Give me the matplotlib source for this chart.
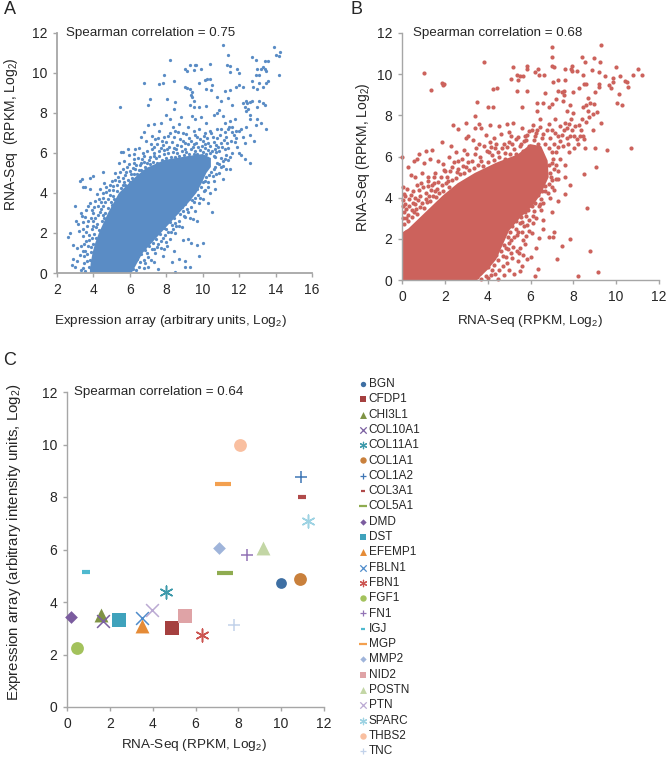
import numpy as np
import matplotlib
matplotlib.use("Agg")
import matplotlib.pyplot as plt

plt.rcParams["font.family"] = ["Liberation Sans", "DejaVu Sans"]
plt.rcParams["mathtext.default"] = "regular"

W, H = 670, 769
AXIS_GRAY = "#A6A6A6"
TEXT = "#262626"
BLUE = "#5A8CC5"
RED = "#CC625C"

# panel A: the saturated core is an outline, the loose points are read one by one
a_core = [(3.8, 0), (3.85, 0.5), (3.95, 1.0), (4.1, 1.5), (4.3, 2.0), (4.55, 2.5), (4.8, 3.0), (5.1, 3.5),
          (5.4, 4.0), (5.85, 4.4), (6.3, 4.8), (6.9, 5.25), (7.9, 5.65), (9.2, 5.85), (10.0, 5.95), (10.45, 5.75),
          (10.45, 5.3), (10.2, 5.0), (9.95, 4.5), (9.65, 4.0), (9.2, 3.5), (8.7, 3.0), (8.2, 2.5),
          (7.7, 2.0), (7.2, 1.5), (6.7, 1.0), (6.4, 0.5), (6.1, 0)]
a_points = [
    (11.1, 11.4), (13.9, 11.3), (14.25, 11.05), (14.0, 10.9), (14.2, 10.85), (11.4, 10.9), (12.7, 10.8), (12.9, 10.65),
    (13.4, 10.6), (13.6, 10.6), (8.2, 10.65), (9.3, 10.4), (9.55, 10.4), (9.65, 10.4), (10.4, 10.45), (11.35, 10.4),
    (11.5, 10.35), (9.0, 10.2), (9.15, 10.1), (9.5, 10.15), (9.9, 10.2), (11.5, 10.05), (11.9, 10.2), (12.0, 10.0),
    (13.2, 10.2), (13.0, 10.2), (13.3, 10.3), (13.4, 10.2), (13.5, 10.1), (14.2, 9.9), (12.9, 9.9), (13.1, 9.9),
    (7.85, 9.9), (7.8, 9.5), (7.6, 9.45), (8.4, 9.6), (6.75, 9.5), (9.8, 9.5), (10.1, 9.65), (10.25, 9.7), (10.4, 9.7),
    (10.5, 9.4), (10.45, 9.15), (10.2, 9.2), (9.0, 9.3), (9.15, 9.25), (9.3, 9.2), (9.4, 9.05), (9.35, 8.9), (9.4, 8.8),
    (9.5, 8.6), (11.2, 9.1), (11.5, 9.15), (11.8, 9.3), (12.0, 9.4), (12.2, 9.3), (12.7, 9.6), (12.75, 9.3), (13.0, 9.2),
    (13.1, 9.5), (13.3, 9.3), (13.5, 9.5), (13.6, 9.6), (7.1, 8.7), (7.0, 8.4), (5.45, 8.3), (8.05, 8.7), (8.5, 8.55),
    (8.45, 8.2), (9.3, 8.4), (9.5, 8.3), (9.8, 8.3), (10.2, 8.35), (10.8, 8.8), (11.0, 8.6), (11.4, 8.75), (11.6, 8.4),
    (12.2, 8.5), (12.35, 8.6), (12.45, 8.5), (12.6, 8.55), (12.7, 8.6), (12.3, 8.3), (12.4, 8.1), (12.5, 8.2),
    (12.6, 7.9), (13.1, 8.6), (13.3, 8.5), (13.4, 8.4), (13.0, 8.3), (12.6, 7.7), (13.0, 7.7), (13.2, 7.5), (13.5, 7.2),
    (2.6, 1.8), (2.7, 2.0), (3.0, 3.35), (3.25, 4.6), (3.35, 4.7), (3.4, 4.3), (3.55, 4.3), (3.8, 4.2), (3.8, 4.75),
    (4.0, 4.85), (4.5, 5.05), (3.3, 3.0), (3.35, 2.85), (3.05, 2.6), (3.15, 2.45), (3.2, 2.1), (3.45, 2.2), (2.9, 1.4),
    (3.1, 1.25), (3.3, 1.35), (2.9, 0.7), (2.8, 0.4), (3.0, 0.3), (3.1, 0.6), (3.25, 0.9), (3.5, 0.85), (3.6, 1.6),
    (3.7, 2.6), (3.75, 1.9), (3.8, 3.5), (3.7, 3.35), (4.0, 3.0), (4.0, 2.6), (4.1, 3.6), (4.3, 3.7), (4.4, 3.2),
    (4.5, 4.0), (4.6, 4.5), (4.7, 4.3), (4.8, 3.7), (4.9, 4.4), (5.0, 4.6), (5.1, 4.15), (5.2, 5.0), (5.4, 5.5),
    (5.5, 6.05), (5.6, 6.05), (5.7, 5.6), (5.85, 5.3), (5.95, 5.9), (6.0, 5.1), (6.2, 5.5), (6.3, 6.2), (6.5, 6.25),
    (6.7, 6.0), (6.9, 6.6), (7.0, 7.4), (7.3, 7.45), (7.4, 6.7), (7.7, 7.5), (7.9, 6.8), (8.0, 7.9), (8.2, 7.7),
    (8.5, 7.1), (3.55, 1.1), (3.65, 0.6), (3.4, 0.25), (3.75, 0.3), (3.45, 1.85), (3.85, 1.3), (3.9, 2.2), (4.15, 2.3),
    (4.25, 2.9), (4.45, 2.6), (4.55, 3.35), (4.65, 3.0), (4.95, 3.55), (5.05, 3.85), (5.3, 4.4), (5.35, 4.8), (5.6, 4.4),
    (5.75, 4.9), (6.1, 4.75), (6.3, 5.2), (6.55, 5.4), (6.65, 5.7), (6.85, 5.3), (7.1, 5.8), (7.2, 6.2), (7.45, 5.75),
    (7.6, 6.1), (7.8, 6.4), (8.05, 6.2), (8.3, 6.55), (8.6, 6.4), (8.75, 6.7), (9.0, 6.5), (9.25, 6.75), (9.5, 6.45),
    (9.7, 6.8), (10.0, 6.6), (10.3, 6.5), (10.55, 6.8), (10.75, 6.4), (10.9, 6.1), (10.7, 5.8), (11.2, 6.2), (11.3, 5.9),
    (6.5, 0.3), (7.0, 0.3), (7.55, 0.2), (8.5, 0.05), (9.0, 0.3), (9.3, 0.3), (9.05, 0.6), (8.7, 0.7), (9.8, 0.85),
    (9.35, 1.5), (9.7, 1.4), (10.0, 1.5), (9.2, 1.7), (8.9, 1.65), (9.45, 2.7), (9.7, 2.6), (9.3, 2.75), (8.5, 2.0),
    (8.2, 1.7), (7.9, 1.2), (7.4, 1.0), (7.0, 0.8), (7.2, 1.2), (7.7, 1.6), (8.0, 2.2), (8.3, 2.4), (8.7, 2.6), (9.0, 2.8),
    (9.35, 3.3), (9.6, 3.1), (9.8, 3.5), (10.0, 3.7), (10.5, 3.05), (10.3, 3.5), (10.4, 4.0), (10.3, 4.3), (10.6, 4.6),
    (10.7, 4.2), (11.3, 5.2), (11.5, 5.2), (11.1, 4.7), (11.0, 5.3), (10.9, 5.0), (11.6, 6.0), (12.0, 6.0), (12.1, 5.9),
    (12.3, 5.7), (12.6, 5.5), (12.8, 6.6), (11.9, 6.3), (11.8, 7.1), (12.0, 7.1), (12.4, 7.3), (12.9, 7.4), (12.6, 6.9),
    (11.5, 7.6), (11.2, 7.5), (11.0, 7.2), (11.3, 6.8), (11.0, 6.5), (10.8, 7.2), (10.4, 7.1), (10.2, 7.5), (9.9, 7.8),
    (9.6, 7.7), (9.2, 7.3), (8.8, 7.8), (8.9, 7.0), (9.4, 7.85), (10.8, 8.0), (10.6, 7.9), (6.4, 0.7), (6.75, 0.65),
    (6.85, 1.15), (7.3, 0.55), (7.5, 1.3), (7.8, 0.85), (8.05, 1.35), (8.3, 0.55), (8.4, 1.1), (7.95, 1.9), (8.25, 2.05),
    (8.55, 2.35), (8.85, 2.3), (8.9, 3.1), (9.2, 3.05), (9.5, 3.55), (9.75, 3.9), (10.05, 4.1), (10.1, 4.6), (10.35, 4.9),
    (10.6, 5.2), (10.8, 5.5), (11.1, 5.6), (11.35, 6.5), (11.55, 6.6), (11.7, 6.9), (11.6, 7.3), (11.4, 7.2), (12.2, 6.8),
    (12.1, 7.2), (12.3, 6.5), (10.1, 7.0), (9.8, 7.2), (9.5, 7.1), (8.7, 7.45), (8.35, 7.3), (7.6, 7.1), (7.2, 6.85),
    (6.6, 6.8), (6.8, 7.05), (6.2, 5.95), (5.9, 6.2), (7.5, 6.45), (8.1, 6.85), (11.1, 7.85), (11.75, 7.7), (10.9, 8.15),
    (3.3, 0.15), (3.5, 0.5), (3.55, 0.1), (3.65, 0.95), (3.7, 1.35), (3.8, 0.65), (3.85, 0.2), (3.4, 1.1), (3.5, 1.45),
    (3.6, 2.05), (3.65, 2.35), (3.75, 1.65), (3.85, 1.05), (3.9, 1.75), (3.95, 1.45), (3.45, 2.55), (3.55, 2.8), (3.6, 3.15),
    (3.85, 2.75), (3.95, 2.35), (4.05, 1.95), (4.1, 2.75), (4.15, 1.75), (4.2, 2.45), (4.3, 2.15), (4.35, 3.05), (4.25, 3.35),
    (4.05, 3.3), (3.9, 3.15), (4.2, 3.95), (4.35, 4.2), (4.4, 3.55), (4.5, 2.9), (4.6, 2.75), (4.55, 3.75), (4.65, 3.55),
    (4.7, 4.05), (4.8, 3.25), (4.85, 4.15), (4.9, 3.9), (5.0, 3.4), (5.05, 4.35), (5.15, 3.7), (5.2, 4.65), (5.3, 4.1),
    (5.4, 4.6), (5.45, 5.05), (5.5, 4.25), (5.6, 4.75), (5.65, 5.2), (5.7, 4.55), (5.8, 5.05), (5.9, 4.65), (5.95, 5.45),
    (6.05, 4.95), (6.15, 5.25), (6.25, 5.7), (6.35, 5.4), (6.45, 5.75), (6.5, 5.15), (6.6, 5.5), (6.75, 5.85), (6.8, 5.55),
    (6.95, 6.1), (7.05, 5.65), (7.15, 6.45), (7.3, 6.0), (7.35, 6.3), (7.55, 6.75), (7.7, 6.25), (7.75, 6.6), (7.9, 6.15),
    (8.0, 6.55), (8.15, 6.3), (8.2, 7.0), (8.4, 6.25), (8.45, 6.8), (8.55, 6.2), (8.65, 7.05), (8.8, 6.35), (8.9, 6.6),
    (9.05, 6.2), (9.1, 6.95), (9.2, 6.45), (9.35, 6.6), (9.45, 6.3), (9.55, 6.9), (9.65, 6.5), (9.75, 6.3), (9.85, 6.7),
    (9.95, 6.35), (10.05, 6.85), (10.15, 6.45), (10.25, 6.75), (10.4, 6.35), (10.45, 7.0), (10.6, 6.55), (10.65, 6.2),
    (10.8, 6.75), (10.85, 6.3), (10.95, 6.9), (11.05, 6.3), (11.15, 6.65), (11.25, 7.05), (11.4, 6.25), (11.45, 7.3),
    (11.6, 7.05), (11.75, 6.55), (11.85, 6.75), (6.15, 0.2), (6.35, 0.15), (6.55, 0.55), (6.6, 0.95), (6.75, 0.25),
    (6.85, 0.5), (6.95, 1.0), (7.05, 1.35), (7.15, 0.65), (7.25, 1.5), (7.35, 1.2), (7.45, 1.7), (7.55, 1.45), (7.65, 1.95),
    (7.7, 1.25), (7.8, 1.75), (7.9, 2.25), (8.0, 1.55), (8.1, 2.05), (8.2, 2.55), (8.35, 2.2), (8.4, 2.75), (8.5, 2.5),
    (8.6, 3.05), (8.7, 2.35), (8.75, 2.95), (8.85, 3.3), (8.95, 2.85), (9.05, 3.45), (9.15, 3.2), (9.25, 3.7), (9.4, 3.65),
    (9.45, 4.05), (9.6, 3.75), (9.7, 4.2), (9.85, 3.75), (9.9, 4.3), (10.0, 4.55), (10.1, 4.15), (10.2, 4.8), (10.3, 4.55),
    (10.45, 5.05), (10.55, 4.85), (10.7, 5.3), (10.75, 4.95), (10.9, 5.45), (11.0, 5.75), (11.1, 5.35), (11.2, 5.7),
    (11.4, 5.65), (11.5, 5.8), (6.95, 5.5), (7.1, 5.45), (7.25, 5.55), (7.35, 5.85), (7.5, 5.5), (7.6, 5.85), (7.75, 5.65),
    (7.85, 5.95), (8.0, 5.75), (8.1, 6.0), (8.25, 5.8), (8.35, 6.05), (8.5, 5.8), (8.6, 6.0), (8.7, 5.85), (8.85, 6.1),
    (8.95, 5.9), (9.1, 6.05), (9.25, 5.95), (9.35, 6.2), (9.5, 5.95), (9.6, 6.1), (9.7, 5.95), (9.85, 6.15), (10.0, 6.05),
    (10.1, 6.25), (10.2, 5.95), (10.3, 6.15), (10.4, 6.0), (10.5, 6.1), (10.6, 5.85), (10.75, 6.05), (6.4, 4.95), (6.6, 5.15),
    (6.75, 5.1), (6.25, 4.95), (6.0, 4.55), (5.75, 4.4),
]

# panel B
b_core = [(0, 0), (3.5, 0), (4.0, 0.5), (4.4, 1.0), (4.7, 1.7), (5.0, 2.4), (5.5, 3.0), (6.1, 3.6), (6.5, 4.2),
          (6.85, 5.0), (6.8, 5.8), (6.5, 6.5), (6.0, 6.6), (5.4, 6.1), (4.4, 5.7), (3.4, 5.2), (2.6, 4.7),
          (1.9, 4.1), (1.3, 3.5), (0.7, 2.9), (0.3, 2.5), (0, 2.3)]
b_points = [
    (7.0, 11.3), (9.3, 11.4), (7.0, 10.85), (8.4, 10.85), (8.95, 10.8), (8.55, 10.6), (9.25, 10.6), (3.85, 10.6),
    (7.0, 10.4), (7.1, 10.35), (5.2, 10.35), (5.85, 10.4), (5.85, 10.25), (6.35, 10.25), (6.2, 10.1), (6.4, 9.95),
    (6.65, 9.95), (7.6, 10.25), (7.9, 10.25), (7.95, 10.4), (7.95, 10.15), (8.15, 10.15), (8.45, 9.95), (8.85, 10.2),
    (9.2, 10.1), (9.5, 9.9), (10.0, 10.35), (10.2, 9.9), (11.0, 10.25), (10.8, 9.95), (11.2, 9.95), (1.05, 10.05),
    (5.35, 9.95), (5.5, 9.9), (5.65, 9.9), (5.1, 9.75), (5.4, 9.7), (7.05, 9.6), (7.3, 9.7), (7.6, 9.7), (7.3, 9.2),
    (7.45, 9.15), (7.55, 9.2), (8.0, 9.15), (8.25, 9.35), (8.5, 9.5), (8.6, 9.5), (9.2, 9.5), (9.2, 9.4), (9.0, 9.15),
    (9.65, 9.45), (9.75, 9.35), (9.85, 9.8), (9.85, 9.6), (10.4, 9.65), (10.5, 9.6), (10.55, 9.4), (1.85, 9.55),
    (1.95, 9.5), (1.9, 9.45), (1.35, 9.25), (4.25, 9.3), (4.45, 9.35), (5.35, 9.2), (5.85, 9.2), (6.7, 9.1), (7.55, 9.0),
    (10.15, 9.05), (7.2, 8.8), (7.5, 8.7), (3.5, 8.65), (6.3, 8.6), (6.6, 8.6), (7.0, 8.55), (6.85, 8.4), (6.3, 8.2),
    (5.6, 8.4), (4.0, 8.4), (4.25, 8.4), (10.05, 8.6), (10.25, 8.5), (8.7, 8.85), (8.45, 8.4), (8.6, 8.5), (8.8, 8.6),
    (8.95, 8.55), (8.7, 8.2), (8.9, 8.05), (9.1, 8.15), (8.75, 7.9), (7.85, 8.5), (7.7, 8.2), (8.0, 8.1), (3.4, 7.95),
    (3.4, 7.4), (2.4, 7.55), (2.6, 7.35), (3.0, 7.65), (3.6, 7.6), (3.7, 7.4), (4.1, 7.55), (9.3, 7.65), (4.55, 7.5),
    (4.9, 7.6), (5.2, 7.65), (5.0, 7.2), (9.15, 0.4), (8.2, 0.2), (7.25, 1.0), (8.8, 1.4), (7.85, 2.0), (7.1, 2.35),
    (6.85, 2.1), (7.05, 2.1), (7.45, 1.65), (8.65, 3.5), (10.7, 6.4), (9.55, 6.3), (9.05, 5.5), (8.5, 5.15), (7.85, 4.6),
    (7.6, 5.0), (6.35, 0.55), (6.2, 0.2), (6.0, 1.1), (5.95, 2.4), (6.05, 2.3), (6.4, 2.05), (5.65, 1.95), (7.0, 3.3),
    (7.3, 3.85), (7.6, 4.2), (6.9, 4.0), (0.0, 6.0), (0.3, 5.5), (0.55, 5.8), (0.7, 5.9), (0.4, 5.1), (0.6, 5.0),
    (0.8, 6.1), (1.05, 5.7), (1.1, 6.25), (1.4, 6.3), (1.3, 5.9), (1.7, 5.8), (1.9, 5.65), (0.95, 5.2), (1.2, 5.0),
    (1.55, 5.2), (1.85, 6.7), (2.2, 6.0), (2.3, 6.5), (2.5, 6.2), (2.6, 5.8), (2.9, 6.3), (3.0, 6.9), (3.3, 6.8),
    (3.1, 7.0), (3.6, 6.6), (3.9, 7.05), (4.1, 6.7), (4.3, 6.9), (4.35, 6.4), (4.6, 7.1), (4.75, 6.6), (5.0, 6.7),
    (5.1, 7.0), (5.3, 6.85), (5.6, 7.4), (5.75, 7.0), (5.95, 7.25), (6.1, 7.55), (6.3, 7.3), (6.45, 7.8), (6.6, 7.1),
    (6.85, 7.6), (7.0, 7.3), (7.15, 7.8), (7.3, 7.0), (7.4, 7.5), (7.55, 7.3), (7.7, 6.9), (7.8, 7.6), (7.95, 7.3),
    (8.1, 7.5), (8.3, 7.0), (8.5, 6.85), (8.2, 6.6), (8.05, 6.4), (7.8, 6.2), (8.55, 6.4), (9.0, 6.4), (8.9, 7.3),
    (8.6, 7.7), (8.4, 7.8), (7.5, 6.5), (7.2, 6.2), (7.05, 5.9), (7.4, 5.9), (7.6, 5.6), (7.1, 5.4), (6.95, 5.0),
    (7.3, 4.9), (7.0, 4.5), (6.7, 4.3), (6.5, 3.95), (6.4, 3.6), (6.15, 3.35), (6.5, 3.4), (5.8, 3.1), (5.6, 2.8),
    (5.3, 2.5), (5.35, 2.2), (5.1, 1.95), (5.2, 1.6), (4.95, 1.5), (4.85, 1.1), (5.15, 1.05), (4.7, 0.7), (5.0, 0.5),
    (5.4, 0.9), (5.5, 0.45), (5.65, 1.2), (5.85, 1.0), (5.5, 1.55), (5.75, 1.75), (4.35, 0.3), (4.5, 0.05), (4.0, 0.1),
    (4.15, 0.25), (4.75, 0.25), (3.7, 0.05), (3.25, 0.1), (5.6, 2.35), (5.85, 2.65), (6.1, 2.75), (6.6, 2.9), (0.05, 4.5),
    (0.1, 4.2), (0.15, 3.7), (0.05, 3.6), (0.25, 4.4), (0.35, 3.95), (0.5, 4.3), (0.6, 3.7), (0.45, 3.4), (0.2, 3.0),
    (0.1, 2.7), (0.7, 4.6), (0.85, 4.1), (1.0, 4.5), (1.1, 3.95), (1.2, 4.8), (1.35, 4.35), (1.5, 4.7), (1.65, 4.4),
    (1.8, 5.0), (2.0, 5.3), (2.15, 4.8), (2.35, 5.5), (2.55, 5.25), (2.85, 5.55), (3.1, 5.75), (3.4, 6.1), (3.7, 5.8),
    (3.95, 6.25), (4.2, 6.05), (4.5, 6.2), (4.8, 6.15), (5.25, 6.35), (5.55, 6.6), (5.8, 6.8), (6.2, 7.0), (0.2, 2.35),
    (0.05, 3.0), (0.1, 3.3), (0.05, 3.9), (0.15, 4.1), (0.2, 3.45), (0.3, 3.15), (0.3, 2.85), (0.35, 3.6), (0.4, 4.15),
    (0.45, 3.05), (0.5, 3.75), (0.55, 3.3), (0.6, 4.0), (0.65, 3.45), (0.7, 3.2), (0.75, 3.9), (0.8, 4.35), (0.85, 3.55),
    (0.9, 4.7), (0.95, 3.75), (1.05, 3.5), (1.1, 4.25), (1.15, 3.8), (1.2, 4.55), (1.25, 4.1), (1.3, 3.85), (1.4, 4.6),
    (1.45, 4.1), (1.5, 5.0), (1.55, 4.3), (1.6, 4.05), (1.7, 4.75), (1.75, 4.25), (1.85, 4.6), (1.9, 4.3), (1.95, 5.35),
    (2.05, 4.7), (2.1, 5.0), (2.2, 4.5), (2.25, 5.3), (2.35, 4.85), (2.45, 5.75), (2.5, 4.95), (2.6, 5.4), (2.7, 5.15),
    (2.8, 5.9), (2.9, 5.2), (3.0, 5.5), (3.05, 6.1), (3.15, 5.35), (3.25, 5.8), (3.35, 5.45), (3.45, 6.4), (3.55, 5.6),
    (3.65, 6.0), (3.8, 5.55), (3.85, 6.5), (4.0, 5.75), (4.05, 6.2), (4.15, 6.45), (4.3, 5.85), (4.4, 6.6), (4.55, 6.0),
    (4.65, 6.4), (4.8, 5.9), (4.9, 6.45), (5.05, 6.1), (5.15, 6.6), (5.3, 6.1), (5.4, 6.95), (5.5, 6.5), (5.65, 6.25),
    (5.7, 6.75), (5.85, 7.05), (5.95, 6.5), (6.05, 7.3), (6.15, 6.8), (6.25, 7.15), (6.35, 6.6), (6.45, 7.45), (6.55, 6.9),
    (6.7, 6.6), (6.75, 7.3), (6.85, 6.4), (6.9, 6.9), (7.0, 6.2), (7.1, 6.6), (7.15, 7.15), (7.3, 6.45), (7.4, 6.75),
    (7.45, 7.05), (7.6, 7.65), (7.7, 7.4), (7.75, 6.6), (7.85, 7.0), (7.9, 7.8), (8.05, 7.0), (8.15, 6.85), (8.25, 7.55),
    (8.35, 7.3), (8.45, 7.0), (6.85, 5.6), (6.9, 5.2), (7.0, 5.7), (7.2, 5.6), (7.3, 5.3), (3.5, 0.15), (3.65, 0.35),
    (3.75, 0.5), (3.9, 0.2), (4.0, 0.65), (4.1, 0.9), (4.2, 0.5), (4.3, 0.75), (4.4, 1.2), (4.5, 0.95), (4.55, 0.5),
    (4.6, 1.4), (4.7, 1.15), (4.75, 1.7), (4.85, 1.55), (4.9, 0.85), (4.95, 2.1), (5.0, 1.8), (5.05, 2.35), (5.1, 1.3),
    (5.15, 2.6), (5.25, 2.1), (5.3, 2.85), (5.4, 2.35), (5.45, 1.3), (5.5, 2.75), (5.55, 3.05), (5.6, 0.7), (5.7, 2.6),
    (5.75, 3.3), (5.8, 2.15), (5.9, 3.4), (5.95, 2.9), (6.05, 3.6), (6.1, 3.1), (6.2, 3.75), (6.25, 3.0), (6.35, 4.15),
    (6.45, 3.7), (6.55, 4.3), (6.6, 3.75), (6.7, 4.55), (6.8, 4.25), (6.85, 4.65), (7.0, 4.85), (7.1, 4.35), (7.2, 4.9),
    (6.6, 2.5), (6.25, 1.55), (5.25, 0.3), (5.35, 1.4),
]

# panel C: one value per gene, legend order
genes = ["BGN", "CFDP1", "CHI3L1", "COL10A1", "COL11A1", "COL1A1", "COL1A2", "COL3A1", "COL5A1", "DMD", "DST",
         "EFEMP1", "FBLN1", "FBN1", "FGF1", "FN1", "IGJ", "MGP", "MMP2", "NID2", "POSTN", "PTN", "SPARC", "THBS2", "TNC"]
rna_seq = [9.97, 4.89, 1.58, 1.7, 4.64, 10.87, 10.92, 10.95, 7.36, 0.2, 2.45, 3.5, 3.5, 6.3, 0.48, 8.42, 0.88,
           7.28, 7.11, 5.53, 9.13, 3.98, 11.23, 8.07, 7.8]
expr_array = [4.71, 3.0, 3.49, 3.26, 4.39, 4.89, 8.77, 8.0, 5.11, 3.43, 3.32, 3.07, 3.38, 2.75, 2.25, 5.8, 5.15,
              8.5, 6.04, 3.45, 6.04, 3.7, 7.07, 9.99, 3.12]
colors = ["#3E6FA3", "#A5403F", "#7F9344", "#7A5FA0", "#3E9AAB", "#C9803C", "#3F76B5", "#B04A4A", "#8FAC50", "#7B5C9F",
          "#3FA2BC", "#E58B36", "#4F8CCB", "#CC5551", "#A3C25C", "#9273B5", "#4FB9CF", "#F3A04F", "#9FB4DA", "#DFA3A6",
          "#C3D6A5", "#BBAAD3", "#9ED3E3", "#F9BFA0", "#C2D2EA"]
ASTER = (6, 2, 0)
markers = ["o", "s", "^", "x", ASTER, "o", "+", "_", "_", "D", "s", "^", "x", ASTER, "o", "+", "_", "_", "D", "s",
           "^", "x", ASTER, "o", "+"]
sizes = [60, 90, 100, 85, 85, 85, 85, 35, 120, 42, 90, 100, 85, 85, 85, 85, 28, 120, 42, 90, 100, 85, 85, 85, 85]


def px_axes(left, right, top, bottom):
    return fig.add_axes([left / W, 1 - bottom / H, (right - left) / W, (bottom - top) / H])


def style(ax, xlim, ylim, xticks, lw=1.3):
    ax.set_xlim(*xlim)
    ax.set_ylim(*ylim)
    ax.set_xticks(xticks)
    ax.set_yticks(range(0, 13, 2))
    for s in ["top", "right"]:
        ax.spines[s].set_visible(False)
    for s in ["left", "bottom"]:
        ax.spines[s].set_color(AXIS_GRAY)
        ax.spines[s].set_linewidth(lw)
    ax.tick_params(length=3, width=1, color=AXIS_GRAY, labelsize=10, labelcolor=TEXT, pad=4)


def labels(ax, xlabel, ylabel, xpx, ypx, box, yfont=10):
    # label centres are given in pixels, then turned into axes fractions
    left, right, top, bottom = box
    ax.set_xlabel(xlabel, fontsize=9.7, color=TEXT)
    ax.set_ylabel(ylabel, fontsize=yfont, color=TEXT)
    ax.xaxis.set_label_coords((xpx[0] - left) / (right - left), (bottom - xpx[1]) / (bottom - top))
    ax.yaxis.set_label_coords((ypx[0] - left) / (right - left), (bottom - ypx[1]) / (bottom - top))
    ax.xaxis.label.set_va("center")
    ax.yaxis.label.set_va("center")


fig = plt.figure(figsize=(W / 100, H / 100), dpi=100)

# A
box_a = (57, 312, 33, 273)
ax = px_axes(*box_a[:2], *box_a[2:])
style(ax, (2, 16), (0, 12), range(2, 17, 2))
ax.fill(*zip(*a_core), color=BLUE, lw=0, zorder=2)
ax.scatter(*zip(*a_points), s=5.5, marker="o", color=BLUE, lw=0, zorder=2)
ax.text(2.5, 12, "Spearman correlation = 0.75", fontsize=9.65, color=TEXT, va="center")
labels(ax, "Expression array (arbitrary units, Log$_2$)", "RNA-Seq  (RPKM, Log$_2$)", (170, 321), (11, 134), box_a)

# B
box_b = (402, 659, 33, 280)
ax = px_axes(*box_b[:2], *box_b[2:])
style(ax, (0, 12), (0, 12), range(0, 13, 2), lw=1.0)
ax.fill(*zip(*b_core), color=RED, lw=0, zorder=2)
ax.scatter(*zip(*b_points), s=9, marker="o", color=RED, lw=0, zorder=2, clip_on=False)
ax.text(0.5, 12, "Spearman correlation = 0.68", fontsize=9.65, color=TEXT, va="center")
labels(ax, "RNA-Seq (RPKM, Log$_2$)", "RNA-Seq (RPKM, Log$_2$)", (530, 321), (363, 157), box_b)

# C
box_c = (67, 324, 392, 707)
ax = px_axes(*box_c[:2], *box_c[2:])
style(ax, (0, 12), (0, 12), range(0, 13, 2), lw=1.0)
for i, gene in enumerate(genes):
    filled = markers[i] in ("o", "s", "^", "D")
    ax.scatter(rna_seq[i], expr_array[i], s=sizes[i], marker=markers[i], color=colors[i], label=gene,
               linewidths=0 if filled else (3 if markers[i] == "_" else 1.1), zorder=3, clip_on=False)
ax.text(0.35, 12, "Spearman correlation = 0.64", fontsize=9.65, color=TEXT, va="center")
labels(ax, "RNA-Seq (RPKM, Log$_2$)", "Expression array (arbitrary intensity units, Log$_2$)", (194, 745), (14, 542), box_c, yfont=10.8)
leg = ax.legend(loc="upper left", bbox_to_anchor=(354 / W, 1 - 378 / H), bbox_transform=fig.transFigure, frameon=False,
                fontsize=8.5, markerscale=0.5, labelspacing=0.28, handletextpad=-0.35, borderpad=0, borderaxespad=0,
                handlelength=1.6, labelcolor=TEXT, scatterpoints=1)
for handle, mk in zip(leg.legend_handles, markers):
    if mk == "_":
        handle.set_linewidth(1.6)
    elif mk not in ("o", "s", "^", "D"):
        handle.set_linewidth(0.9)

# panel letters
fig.text(10 / W, 1 - 10 / H, "A", fontsize=13, color=TEXT, ha="center", va="center")
fig.text(357 / W, 1 - 10 / H, "B", fontsize=13, color=TEXT, ha="center", va="center")
fig.text(10 / W, 1 - 360 / H, "C", fontsize=13, color=TEXT, ha="center", va="center")

fig.savefig("out.png", dpi=100)
